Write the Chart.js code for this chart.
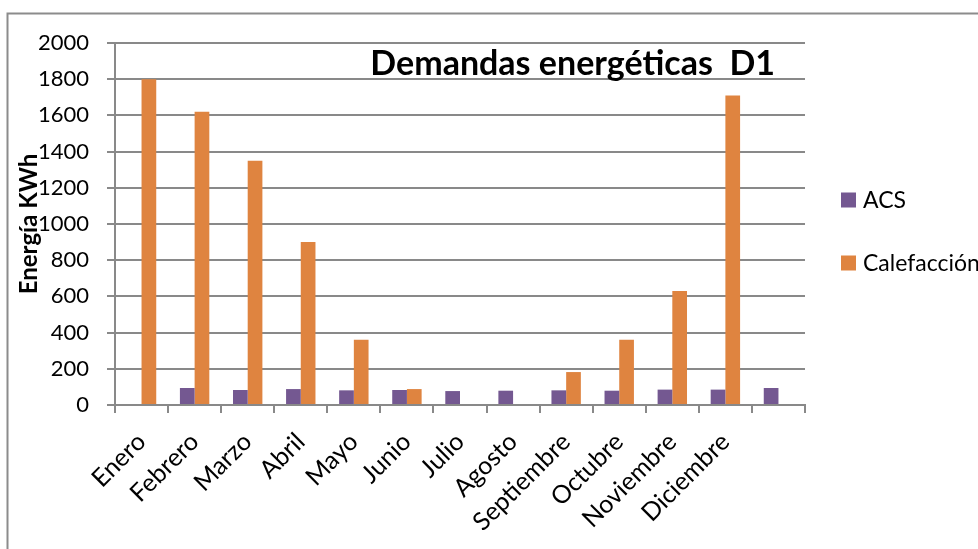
<!DOCTYPE html>
<html>
<head>
<meta charset="utf-8">
<script src="https://cdn.jsdelivr.net/npm/chart.js@4.4.0/dist/chart.umd.min.js"></script>
<style>
  html, body { margin: 0; padding: 0; background: #ffffff; }
  #wrap { width: 978px; height: 549px; position: relative; }
</style>
</head>
<body>
<div id="wrap"><canvas id="chart"></canvas></div>
<script>
// Monthly energy demand (kWh): domestic hot water (ACS) and space heating
const categories = ['Enero', 'Febrero', 'Marzo', 'Abril', 'Mayo', 'Junio', 'Julio',
                    'Agosto', 'Septiembre', 'Octubre', 'Noviembre', 'Diciembre', ''];
const acs = [null, 94, 83, 88, 81, 83, 77, 79, 81, 79, 85, 85, 94];
const calefaccion = [1800, 1620, 1350, 900, 360, 88, 0, 0, 182, 360, 630, 1710, null];
const seriesNames = ['ACS', 'Calefacción'];
const yMin = 0, yMax = 2000, yStep = 200;

const PURPLE = '#745891';
const ORANGE = '#df8440';
const GRID = '#898989';
const FONT = 'Lato, "Open Sans", sans-serif';

// Outer frame of the chart object
const framePlugin = {
  id: 'frame',
  beforeDraw(chart) {
    const ctx = chart.ctx;
    ctx.save();
    ctx.strokeStyle = '#8c8c8c';
    ctx.lineWidth = 2;
    ctx.beginPath();
    ctx.moveTo(7.5, chart.height);
    ctx.lineTo(7.5, 13.5);
    ctx.lineTo(chart.width, 13.5);
    ctx.stroke();
    ctx.restore();
  }
};

// Title placed inside the plot area, top right
const headingPlugin = {
  id: 'heading',
  afterDraw(chart) {
    const { ctx, chartArea } = chart;
    ctx.save();
    ctx.font = 'bold 34px ' + FONT;
    ctx.fillStyle = '#000';
    ctx.textAlign = 'right';
    ctx.textBaseline = 'alphabetic';
    ctx.fillText('Demandas energéticas  D1', chartArea.right - 30, chartArea.top + 32);
    ctx.restore();
  }
};

// Legend on the right, allowed to run past the canvas edge
const sideLegendPlugin = {
  id: 'sideLegend',
  afterDraw(chart) {
    const { ctx, chartArea } = chart;
    ctx.save();
    ctx.font = '23px ' + FONT;
    ctx.textBaseline = 'middle';
    ctx.textAlign = 'left';
    const x0 = chartArea.right + 36;
    const ys = [200, 263];
    chart.data.datasets.forEach((ds, i) => {
      ctx.fillStyle = ds.backgroundColor;
      ctx.fillRect(x0, ys[i] - 7.5, 15, 15);
      ctx.fillStyle = '#000';
      ctx.fillText(ds.label, x0 + 22, ys[i] + 1);
    });
    ctx.restore();
  }
};

new Chart(document.getElementById('chart'), {
  type: 'bar',
  data: {
    labels: categories,
    datasets: [
      { label: seriesNames[0], data: acs, backgroundColor: PURPLE,
        categoryPercentage: 0.554, barPercentage: 1.0 },
      { label: seriesNames[1], data: calefaccion, backgroundColor: ORANGE,
        categoryPercentage: 0.554, barPercentage: 1.0 }
    ]
  },
  options: {
    responsive: true,
    maintainAspectRatio: false,
    animation: false,
    devicePixelRatio: 1,
    layout: { padding: { left: 8, top: 43, right: 173, bottom: 0 } },
    plugins: {
      legend: { display: false },
      title: { display: false },
      tooltip: { enabled: false }
    },
    scales: {
      x: {
        afterFit(scale) { scale.height = 144; },
        grid: {
          offset: true,
          drawOnChartArea: false,
          drawTicks: true,
          tickLength: 8,
          color: GRID,
          lineWidth: 2
        },
        border: { color: GRID, width: 2 },
        ticks: {
          autoSkip: false,
          minRotation: 45,
          maxRotation: 45,
          padding: 14,
          color: '#000',
          font: { family: FONT, size: 25 }
        }
      },
      y: {
        min: yMin,
        max: yMax,
        afterFit(scale) { scale.width = 107; },
        grid: {
          color: GRID,
          lineWidth: 2,
          drawTicks: true,
          tickLength: 8
        },
        border: { color: GRID, width: 2 },
        ticks: {
          stepSize: yStep,
          padding: 18,
          color: '#000',
          font: { family: FONT, size: 22 },
          callback: (v) => String(v)
        },
        title: {
          display: true,
          text: 'Energía KWh',
          color: '#000',
          font: { family: FONT, size: 24, weight: 'bold' },
          padding: { top: 7, bottom: 0 }
        }
      }
    }
  },
  plugins: [framePlugin, headingPlugin, sideLegendPlugin]
});
</script>
</body>
</html>
